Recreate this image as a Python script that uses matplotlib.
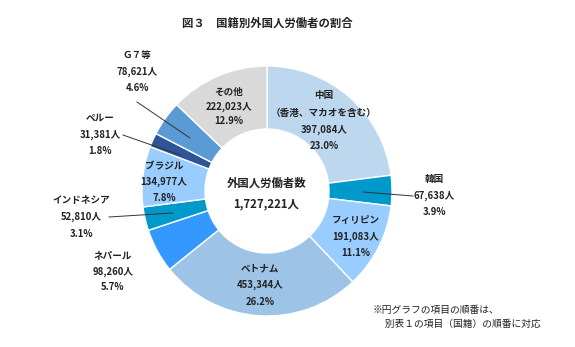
import matplotlib
matplotlib.use("Agg")
import matplotlib.pyplot as plt

plt.rcParams['font.family'] = ['Noto Sans CJK JP', 'DejaVu Sans']

countries = ["中国", "韓国", "フィリピン", "ベトナム", "ネパール", "インドネシア",
             "ブラジル", "ペルー", "Ｇ７等", "その他"]
workers = [397084, 67638, 191083, 453344, 98260, 52810, 134977, 31381, 78621, 222023]
shares = ["23.0%", "3.9%", "11.1%", "26.2%", "5.7%", "3.1%", "7.8%", "1.8%", "4.6%", "12.9%"]
colors = ["#BDD7EE", "#0099CC", "#99CCFF", "#9DC3E6", "#3399FF", "#0099CC",
          "#99CCFF", "#2F5597", "#5B9BD5", "#D9D9D9"]
total_label = "外国人労働者数"
total_value = "1,727,221人"
title = "図３　国籍別外国人労働者の割合"
note1 = "※円グラフの項目の順番は、"
note2 = "　別表１の項目（国籍）の順番に対応"

W, H = 575, 347
fig = plt.figure(figsize=(W / 100, H / 100), dpi=100)
ax = fig.add_axes([0, 0, 1, 1])

def Y(y):
    return H - y

cx, cy, R, r_in = 267, 191, 125, 62
ax.pie(workers, colors=colors, startangle=90, counterclock=False,
       center=(cx, Y(cy)), radius=R, frame=True,
       wedgeprops=dict(width=R - r_in, edgecolor='white', linewidth=1.0))
ax.set_xlim(0, W)
ax.set_ylim(0, H)
ax.set_aspect('equal')
ax.axis('off')

fs = 6.9
def label(x, ys, lines, size=fs):
    for yy, t in zip(ys, lines):
        ax.text(x, Y(yy), t, ha='center', va='center',
                fontsize=size, fontweight='bold', color='#222222')

def fmt(i):
    return f"{workers[i]:,}人"

# inside labels
label(324, [95, 113, 130, 146], [countries[0], "（香港、マカオを含む）", fmt(0), shares[0]])
label(229, [92, 107, 121], [countries[9], fmt(9), shares[9]])
label(164, [166, 182, 198], [countries[6], fmt(6), shares[6]])
label(260, [268, 285, 302], [countries[3], fmt(3), shares[3]])
label(356, [220, 237, 253], [countries[2], fmt(2), shares[2]])
# outside labels
label(137, [55, 72, 88], [countries[8], fmt(8), shares[8]])
label(100, [118, 135, 151], [countries[7], fmt(7), shares[7]])
label(81, [200, 217, 234], [countries[5], fmt(5), shares[5]])
label(113, [255, 272, 287], [countries[4], fmt(4), shares[4]])
label(434, [179, 196, 212], [countries[1], fmt(1), shares[1]])

# leader lines
lines = [((137, 102), (190, 138)),
         ((123, 135), (180, 155)),
         ((109, 217), (173, 213)),
         ((413, 196), (363, 192))]
for (x1, y1), (x2, y2) in lines:
    ax.plot([x1, x2], [Y(y1), Y(y2)], color='#333333', linewidth=0.7)

# center
ax.text(267, Y(183), total_label, ha='center', va='center', fontsize=8.2,
        fontweight='bold', color='#222222')
ax.text(266, Y(204), total_value, ha='center', va='center', fontsize=8.2,
        fontweight='bold', color='#222222')

# title
ax.text(267, Y(23), title, ha='center', va='center', fontsize=8.2,
        fontweight='bold', color='#222222')

# note
ax.text(373, Y(310), note1, ha='left', va='center', fontsize=7.0, color='#222222')
ax.text(375, Y(324), note2, ha='left', va='center', fontsize=7.0, color='#222222')

fig.savefig("out.png", dpi=100, facecolor='white')
